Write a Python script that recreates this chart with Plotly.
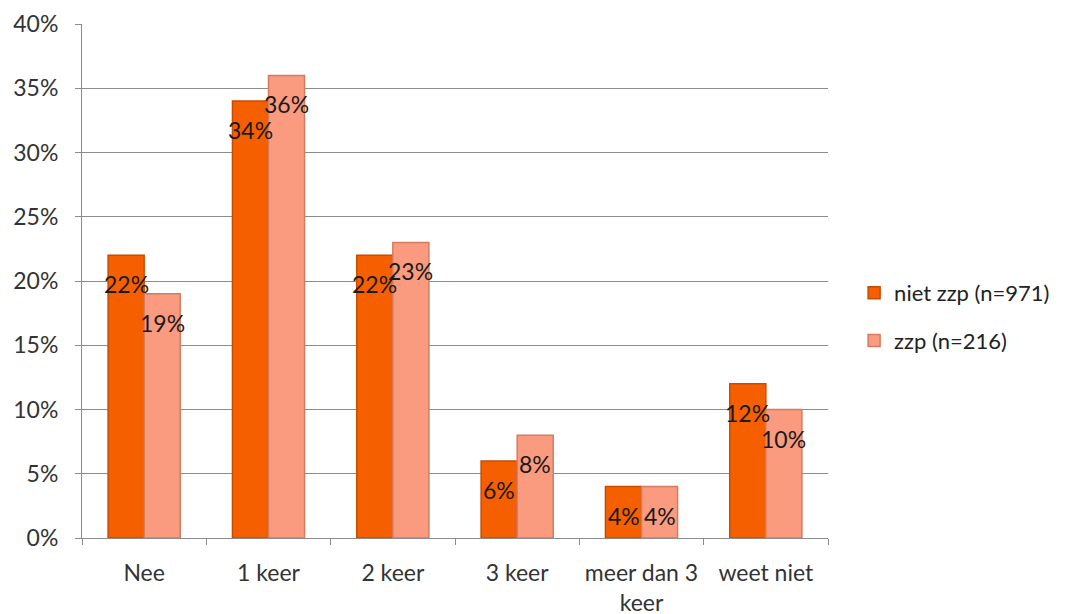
import plotly.graph_objects as go

categories = ["Nee", "1 keer", "2 keer", "3 keer", "meer dan 3<br>keer", "weet niet"]
niet_zzp = [22, 34, 22, 6, 4, 12]
zzp = [19, 36, 23, 8, 4, 10]
series_names = ["niet zzp (n=971)", "zzp (n=216)"]
y_ticks = [0, 5, 10, 15, 20, 25, 30, 35, 40]
y_tick_labels = [f"{v}%" for v in y_ticks]

FONT = "Lato, 'Open Sans', sans-serif"

fig = go.Figure()
fig.add_trace(go.Bar(
    x=categories, y=niet_zzp, name=series_names[0],
    marker=dict(color="#F65F00", line=dict(color="#C84C00", width=1.5)),
    legendgroup="a",
))
fig.add_trace(go.Bar(
    x=categories, y=zzp, name=series_names[1],
    marker=dict(color="#FA9A7F", line=dict(color="#D47C62", width=1.5)),
    legendgroup="b",
))

for vals, shift in ((niet_zzp, -18), (zzp, 18)):
    for c, v in zip(categories, vals):
        fig.add_annotation(
            x=c, y=v, text=f"{v}%", showarrow=False,
            xshift=shift, yshift=-29,
            font=dict(family=FONT, size=23, color="#1a1a1a"),
        )

fig.update_layout(
    width=1067, height=614,
    margin=dict(l=74, r=247, t=16, b=84),
    paper_bgcolor="white", plot_bgcolor="white",
    barmode="group", bargap=0.42, bargroupgap=0,
    font=dict(family=FONT, size=23, color="#333333"),
    showlegend=True,
    legend=dict(
        x=1.035, y=0.43, xanchor="left", yanchor="middle",
        traceorder="grouped", tracegroupgap=16,
        font=dict(family=FONT, size=22, color="#222222"),
        itemwidth=30,
    ),
    xaxis=dict(
        type="category", tickson="boundaries", ticks="outside", ticklen=6,
        tickcolor="#8c8c8c", showline=True, linecolor="#8c8c8c", linewidth=1,
        showgrid=False, tickfont=dict(size=23, color="#333333"),
        automargin=False, ticklabelstandoff=14,
    ),
    yaxis=dict(
        range=[0, 40], tickvals=y_ticks, ticktext=y_tick_labels,
        ticks="outside", ticklen=6, tickcolor="#8c8c8c",
        showline=True, linecolor="#8c8c8c", linewidth=1,
        showgrid=True, gridcolor="#8c8c8c", gridwidth=1,
        zeroline=False, tickfont=dict(size=23, color="#333333"),
        automargin=False, ticklabelstandoff=12,
    ),
)

fig.write_html("out.html")
